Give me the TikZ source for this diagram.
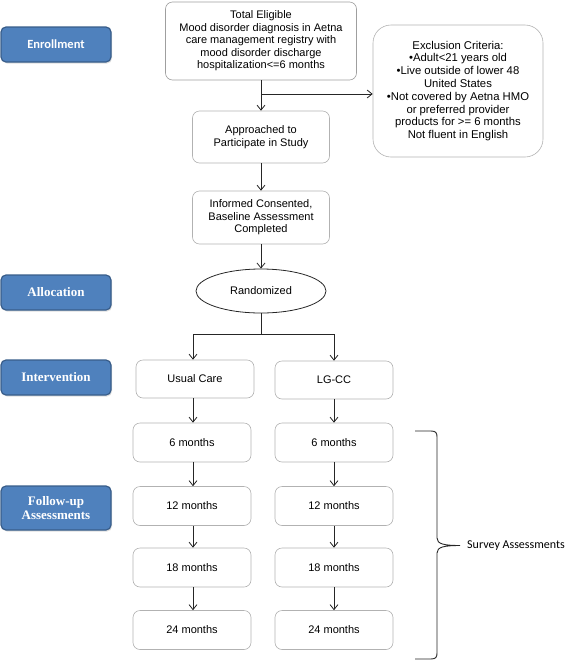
\documentclass[tikz,border=0pt]{standalone}
\usepackage{fontspec}
\setmainfont{Liberation Sans}
\newfontfamily\calib{Carlito}
\newfontfamily\timesf{Liberation Serif}
\usetikzlibrary{arrows.meta,shapes.geometric,shadows}
\definecolor{bluefill}{HTML}{4F81BD}
\definecolor{blueedge}{HTML}{385D8A}
\tikzset{
  stagebox/.style={draw=blueedge, line width=1.2pt, fill=bluefill, rounded corners=5pt,
    minimum width=110pt, minimum height=35pt, text=white, align=center,
    drop shadow={opacity=0.25, shadow xshift=1pt, shadow yshift=-1.5pt}},
  flowbox/.style={draw=gray!60, line width=0.6pt, rounded corners=7pt, align=center,
    font=\fontsize{11}{12.5}\selectfont, inner sep=2pt},
  arr/.style={-{Straight Barb[length=5pt,width=8pt]}, draw=black!85, line width=0.8pt},
  ln/.style={draw=black!85, line width=0.8pt}
}
\begin{document}
\begin{tikzpicture}[x=1pt,y=-1pt]
\useasboundingbox (0,0) rectangle (567,662);
% stage labels
\node[stagebox, font=\calib\bfseries\fontsize{12.5}{14}\selectfont] (enr) at (56,44.5) {Enrollment};
\node[stagebox, font=\timesf\bfseries\fontsize{13}{15}\selectfont] (alloc) at (56,292.5) {Allocation};
\node[stagebox, font=\timesf\bfseries\fontsize{13}{15}\selectfont] (interv) at (56,377.5) {Intervention};
\node[stagebox, minimum height=44pt, font=\timesf\bfseries\fontsize{13}{14}\selectfont] (follow) at (56,508) {Follow-up\\Assessments};
% main flow
\node[flowbox, minimum width=191pt, minimum height=78pt, draw=gray!75] (total) at (261,41)
  {Total Eligible\\Mood disorder diagnosis in Aetna\\care management registry with\\mood disorder discharge\\hospitalization<=6 months};
\node[flowbox, minimum width=170pt, minimum height=132pt, rounded corners=18pt, font=\fontsize{11.3}{12.8}\selectfont] (excl) at (458,91)
  {Exclusion Criteria:\\•Adult<21 years old\\•Live outside of lower 48\\United States\\•Not covered by Aetna HMO\\or preferred provider\\products for >= 6 months\\Not fluent in English};
\node[flowbox, minimum width=137pt, minimum height=52pt] (appr) at (261,137) {Approached to\\Participate in Study};
\node[flowbox, minimum width=137pt, minimum height=53pt] (inf) at (261,217.5) {Informed Consented,\\Baseline Assessment\\Completed};
\node[draw=black!85, line width=0.8pt, ellipse, minimum width=130pt, minimum height=44pt, inner sep=0pt,
  font=\fontsize{11}{12.5}\selectfont] (rand) at (261,291) {Randomized};
\node[flowbox, minimum width=118pt, minimum height=38pt] (uc) at (195,379) {Usual Care};
\node[flowbox, minimum width=118pt, minimum height=38pt] (lg) at (334,380) {LG-CC};
\node[flowbox, minimum width=118pt, minimum height=39pt] (l6) at (192,442.5) {6 months};
\node[flowbox, minimum width=118pt, minimum height=39pt] (r6) at (334,442.5) {6 months};
\node[flowbox, minimum width=118pt, minimum height=39pt] (l12) at (192,506) {12 months};
\node[flowbox, minimum width=118pt, minimum height=39pt] (r12) at (334,506) {12 months};
\node[flowbox, minimum width=118pt, minimum height=39pt] (l18) at (192,567.5) {18 months};
\node[flowbox, minimum width=118pt, minimum height=39pt] (r18) at (334,567.5) {18 months};
\node[flowbox, minimum width=118pt, minimum height=39pt] (l24) at (192,630) {24 months};
\node[flowbox, minimum width=118pt, minimum height=39pt] (r24) at (334,630) {24 months};
\node[anchor=west, font=\calib\fontsize{12}{14}\selectfont, inner sep=0pt] (survey) at (467,546) {Survey Assessments};
% connectors
\coordinate (j1) at (261,94);
\coordinate (j2) at (261,334);
\coordinate (cl) at (193,0);
\draw[arr] (total.south) -- (appr.north);
\draw[arr] (j1) -- (j1 -| excl.west);
\draw[arr] (appr.south) -- (inf.north);
\draw[arr] (inf.south) -- (rand.north);
\draw[ln] (rand.south) -- (j2);
\draw[arr] (j2) -| (uc.north -| cl);
\draw[arr] (j2) -| (lg.north);
\draw[arr] (uc.south -| cl) -- (l6.north -| cl);
\draw[arr] (lg.south) -- (r6.north);
\draw[arr] (l6.south -| cl) -- (l12.north -| cl);
\draw[arr] (r6.south) -- (r12.north);
\draw[arr] (l12.south -| cl) -- (l18.north -| cl);
\draw[arr] (r12.south) -- (r18.north);
\draw[arr] (l18.south -| cl) -- (l24.north -| cl);
\draw[arr] (r18.south) -- (r24.north);
% brace
\draw[black!85, line width=0.9pt]
  (415,431) -- (431,431) .. controls (436,431) and (437,433) .. (437,437)
  -- (437,538) .. controls (437,544) and (444,545.5) .. (460,545.5)
  .. controls (444,545.5) and (437,547) .. (437,553)
  -- (437,653) .. controls (437,657) and (436,659) .. (431,659) -- (415,659);
\end{tikzpicture}
\end{document}
